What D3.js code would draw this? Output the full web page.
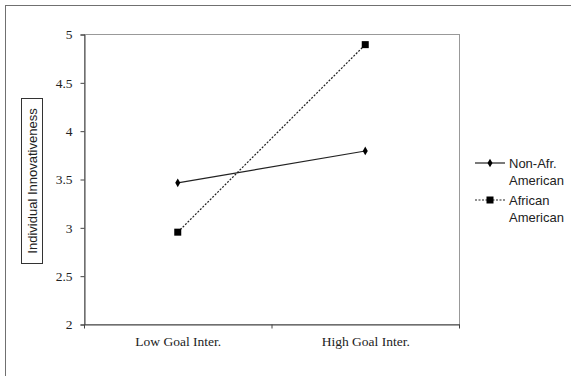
<!DOCTYPE html>
<html>
<head>
<meta charset="utf-8">
<script src="https://cdn.jsdelivr.net/npm/d3@7"></script>
<style>
  body { margin: 0; background: #fff; }
</style>
</head>
<body>
<div id="graph"></div>
<script>
const categories = ['Low Goal Inter.', 'High Goal Inter.']
const seriesNames = ['Non-Afr. American', 'African American']
const nonAfrAmerican = [3.46, 3.79]
const africanAmerican = [2.95, 4.89]
const yTicks = [2, 2.5, 3, 3.5, 4, 4.5, 5]

const width = 571, height = 376
const margin = { left: 84, top: 34, right: 112, bottom: 52 }
const serif = '"Liberation Serif", "Times New Roman", serif'
const sans = '"Liberation Sans", Arial, sans-serif'

const svg = d3.select('#graph').append('svg')
    .attr('width', width)
    .attr('height', height)

// outer frame
svg.append('rect')
    .attr('x', 5.5).attr('y', 5.5)
    .attr('width', width).attr('height', height)
    .attr('fill', 'none').attr('stroke', '#707070')

const x = d3.scaleBand().domain(categories)
    .range([margin.left, width - margin.right])
const y = d3.scaleLinear().domain([2, 5])
    .range([height - margin.bottom, margin.top])

// plot border
svg.append('rect')
    .attr('x', margin.left + 0.5).attr('y', margin.top + 0.5)
    .attr('width', width - margin.right - margin.left)
    .attr('height', height - margin.bottom - margin.top)
    .attr('fill', 'none').attr('stroke', '#999')

const yAxis = svg.append('g')
    .attr('transform', `translate(${margin.left + 0.5},0.5)`)
    .call(d3.axisLeft(y).tickValues(yTicks).tickSize(4).tickPadding(8)
        .tickFormat(d => d))
yAxis.selectAll('text')
    .attr('font-family', serif)
    .attr('font-size', 13.5).attr('fill', '#222')
yAxis.selectAll('line, path').attr('stroke', '#444')

const xAxis = svg.append('g')
    .attr('transform', `translate(0.5,${height - margin.bottom + 0.5})`)
    .call(d3.axisBottom(x).tickSize(0).tickPadding(12))
xAxis.select('path').attr('stroke', '#444')
xAxis.selectAll('text')
    .attr('font-family', serif)
    .attr('font-size', 13.5).attr('fill', '#222')
// category boundary ticks
const bounds = [x.range()[0], x(categories[1]), x.range()[1]]
xAxis.selectAll('.bound').data(bounds).enter().append('line')
    .attr('x1', d => d).attr('x2', d => d)
    .attr('y1', 0).attr('y2', 4)
    .attr('stroke', '#444')

// y title in a box
const yt = svg.append('g').attr('transform', 'translate(32,181) rotate(-90)')
yt.append('rect')
    .attr('x', -82.5).attr('y', -10.5).attr('width', 165).attr('height', 21)
    .attr('fill', 'none').attr('stroke', '#333')
yt.append('text')
    .attr('text-anchor', 'middle').attr('dy', '0.35em')
    .attr('font-family', sans)
    .attr('font-size', 13).attr('fill', '#222')
    .text('Individual Innovativeness')

const cx = d => x(d) + x.bandwidth() / 2
const line = d3.line().x((d, i) => cx(categories[i])).y(d => y(d))

svg.append('path').datum(nonAfrAmerican)
    .attr('d', line).attr('fill', 'none')
    .attr('stroke', '#222').attr('stroke-width', 1.2)
svg.append('path').datum(africanAmerican)
    .attr('d', line).attr('fill', 'none')
    .attr('stroke', '#222').attr('stroke-width', 1.2)
    .attr('stroke-dasharray', '2,1.5')

const diamond = d3.symbol().type(d3.symbolDiamond).size(22)
svg.selectAll('.nonafr').data(nonAfrAmerican).enter().append('path')
    .attr('d', diamond)
    .attr('transform', (d, i) => `translate(${cx(categories[i])},${y(d)})`)
    .attr('fill', '#000')
svg.selectAll('.afr').data(africanAmerican).enter().append('rect')
    .attr('x', (d, i) => cx(categories[i]) - 3.5)
    .attr('y', d => y(d) - 3.5)
    .attr('width', 7).attr('height', 7)
    .attr('fill', '#000')

// legend
const legend = svg.append('g').attr('transform', 'translate(475,0)')
const legendRows = [
    { name: seriesNames[0], y: 163, dash: null, marker: 'diamond' },
    { name: seriesNames[1], y: 200, dash: '2,1.5', marker: 'square' }
]
legendRows.forEach(r => {
    legend.append('line')
        .attr('x1', 0).attr('x2', 30).attr('y1', r.y).attr('y2', r.y)
        .attr('stroke', '#222').attr('stroke-width', 1.2)
        .attr('stroke-dasharray', r.dash)
    if (r.marker === 'diamond') {
        legend.append('path').attr('d', diamond)
            .attr('transform', `translate(15,${r.y})`).attr('fill', '#000')
    } else {
        legend.append('rect').attr('x', 11.5).attr('y', r.y - 3.5)
            .attr('width', 7).attr('height', 7).attr('fill', '#000')
    }
    const words = r.name.split(' ')
    const t = legend.append('text')
        .attr('x', 34).attr('y', r.y)
        .attr('font-family', sans)
        .attr('font-size', 13).attr('fill', '#222')
    t.append('tspan').attr('x', 34).attr('dy', '0.35em').text(words[0])
    t.append('tspan').attr('x', 34).attr('dy', 17).text(words[1])
})
</script>
</body>
</html>
